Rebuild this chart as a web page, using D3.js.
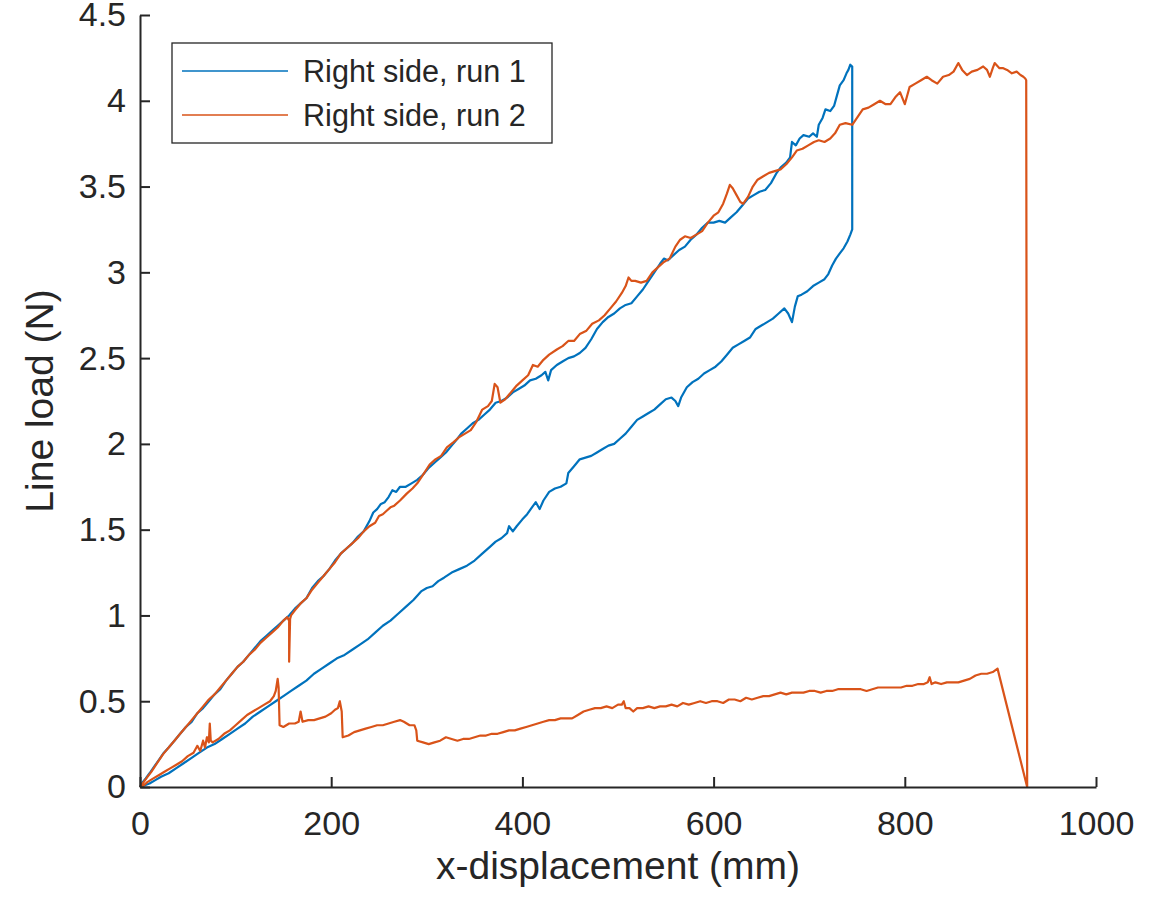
<!DOCTYPE html>
<html>
<head>
<meta charset="utf-8">
<script src="https://cdn.jsdelivr.net/npm/d3@7"></script>
<style>
	body { margin: 0; background: #fff; }
	text { font-family: 'Liberation Sans', Arial, sans-serif; fill: #262626; }
</style>
</head>
<body>
<div class="canvas"></div>
<script>
// data: [x-displacement (mm), line load (N)]
const run1Load = [[0,0],[3,0.03],[6,0.05],[10,0.08],[15,0.12],[20,0.16],[25,0.2],[30,0.23],[36,0.27],[42,0.31],[48,0.35],[54,0.38],[60,0.43],[66,0.46],[72,0.5],[78,0.54],[84,0.57],[90,0.62],[96,0.66],[102,0.7],[108,0.73],[114,0.77],[120,0.81],[126,0.85],[132,0.88],[138,0.91],[144,0.94],[150,0.97],[156,1.0],[162,1.04],[168,1.07],[174,1.1],[180,1.16],[186,1.2],[192,1.23],[198,1.27],[204,1.32],[210,1.36],[216,1.39],[222,1.42],[228,1.46],[234,1.49],[240,1.55],[244,1.6],[248,1.62],[252,1.65],[256,1.66],[260,1.69],[264,1.73],[268,1.72],[272,1.75],[278,1.75],[284,1.77],[290,1.79],[296,1.82],[302,1.86],[308,1.89],[314,1.92],[320,1.95],[326,1.99],[332,2.03],[336,2.06],[342,2.09],[348,2.12],[354,2.14],[360,2.17],[366,2.2],[372,2.24],[378,2.25],[384,2.27],[390,2.3],[396,2.32],[402,2.34],[408,2.37],[414,2.38],[420,2.4],[424,2.42],[427,2.37],[430,2.43],[436,2.46],[442,2.48],[448,2.5],[454,2.51],[460,2.53],[466,2.56],[472,2.61],[478,2.67],[484,2.71],[490,2.74],[496,2.76],[502,2.79],[508,2.81],[514,2.82],[520,2.86],[526,2.9],[532,2.95],[538,3.0],[544,3.05],[548,3.08],[552,3.07],[558,3.1],[564,3.13],[570,3.15],[576,3.19],[582,3.22],[588,3.26],[594,3.29],[600,3.29],[606,3.3],[612,3.29],[618,3.32],[624,3.35],[630,3.39],[636,3.43],[642,3.45],[648,3.47],[654,3.48],[660,3.52],[666,3.58],[670,3.61],[676,3.64],[680,3.67],[682,3.76],[686,3.74],[690,3.78],[694,3.8],[700,3.79],[704,3.81],[708,3.79],[710,3.86],[714,3.9],[717,3.95],[722,3.94],[726,3.97],[729,4.03],[732,4.09],[736,4.12],[739,4.16],[741,4.18],[743,4.21],[745,4.2]];

const run1Unload = [[0,0],[5,0.01],[10,0.02],[16,0.04],[22,0.06],[30,0.08],[38,0.11],[46,0.14],[54,0.17],[62,0.2],[70,0.23],[78,0.25],[86,0.28],[94,0.31],[102,0.34],[110,0.37],[118,0.41],[126,0.44],[134,0.47],[142,0.5],[150,0.53],[158,0.56],[166,0.59],[174,0.62],[182,0.66],[190,0.69],[198,0.72],[206,0.75],[214,0.77],[222,0.8],[230,0.83],[238,0.86],[246,0.9],[254,0.94],[262,0.97],[270,1.01],[278,1.05],[286,1.09],[294,1.14],[300,1.16],[306,1.17],[312,1.2],[318,1.22],[326,1.25],[334,1.27],[342,1.29],[350,1.32],[358,1.36],[366,1.4],[372,1.43],[378,1.45],[384,1.48],[386,1.52],[390,1.49],[394,1.52],[400,1.56],[405,1.59],[410,1.63],[414,1.66],[418,1.62],[422,1.67],[428,1.72],[434,1.74],[440,1.75],[446,1.77],[448,1.83],[454,1.87],[460,1.91],[466,1.92],[472,1.93],[478,1.95],[484,1.97],[490,1.99],[496,2.0],[502,2.03],[508,2.06],[514,2.1],[520,2.14],[526,2.16],[532,2.18],[538,2.2],[544,2.23],[550,2.26],[556,2.27],[560,2.25],[563,2.22],[566,2.27],[572,2.33],[578,2.36],[584,2.38],[590,2.41],[596,2.43],[602,2.45],[608,2.48],[614,2.52],[620,2.56],[626,2.58],[632,2.6],[638,2.62],[644,2.67],[650,2.69],[656,2.71],[662,2.73],[668,2.76],[674,2.79],[678,2.76],[682,2.71],[685,2.8],[688,2.86],[692,2.87],[698,2.89],[704,2.92],[710,2.94],[716,2.96],[720,2.99],[724,3.04],[728,3.08],[732,3.11],[736,3.14],[740,3.18],[743,3.22],[745,3.25]];

const run2Load = [[0,0],[4,0.03],[8,0.06],[12,0.09],[18,0.14],[24,0.19],[30,0.23],[36,0.27],[42,0.31],[48,0.35],[54,0.39],[60,0.43],[66,0.47],[72,0.51],[78,0.54],[84,0.58],[90,0.62],[96,0.66],[102,0.7],[108,0.73],[114,0.77],[120,0.8],[126,0.84],[132,0.87],[138,0.9],[144,0.93],[150,0.97],[154,0.99],[156,0.97],[156,0.73],[157,0.98],[158,1.0],[162,1.03],[168,1.07],[174,1.1],[180,1.15],[186,1.19],[192,1.23],[198,1.27],[204,1.31],[210,1.36],[216,1.39],[222,1.42],[228,1.45],[234,1.49],[240,1.52],[246,1.54],[250,1.58],[254,1.59],[258,1.61],[262,1.63],[266,1.64],[272,1.67],[279,1.71],[285,1.74],[290,1.77],[296,1.82],[303,1.88],[309,1.91],[315,1.93],[321,1.98],[328,2.01],[334,2.04],[340,2.06],[346,2.08],[352,2.13],[358,2.2],[364,2.22],[368,2.25],[371,2.35],[374,2.33],[377,2.24],[382,2.26],[388,2.3],[394,2.34],[400,2.37],[406,2.4],[411,2.46],[416,2.45],[422,2.49],[428,2.52],[436,2.55],[442,2.57],[448,2.6],[454,2.6],[460,2.64],[467,2.66],[473,2.7],[480,2.72],[486,2.75],[492,2.79],[498,2.83],[504,2.88],[508,2.92],[511,2.97],[514,2.95],[518,2.95],[524,2.94],[530,2.95],[536,3.0],[542,3.03],[548,3.06],[554,3.08],[560,3.15],[565,3.19],[570,3.21],[576,3.2],[582,3.22],[588,3.24],[594,3.29],[600,3.33],[605,3.35],[610,3.4],[614,3.46],[617,3.51],[620,3.49],[624,3.45],[628,3.41],[631,3.4],[636,3.44],[641,3.5],[646,3.54],[652,3.56],[658,3.58],[664,3.59],[670,3.6],[676,3.63],[682,3.67],[687,3.71],[693,3.72],[699,3.74],[705,3.76],[710,3.77],[716,3.76],[722,3.78],[727,3.81],[732,3.86],[738,3.87],[745,3.86],[750,3.9],[756,3.95],[762,3.96],[768,3.98],[774,4.0],[780,3.98],[785,3.98],[790,4.02],[795,4.05],[800,3.98],[805,4.08],[811,4.1],[817,4.12],[823,4.14],[828,4.12],[834,4.1],[840,4.14],[846,4.15],[851,4.17],[856,4.22],[860,4.18],[865,4.15],[870,4.17],[876,4.18],[882,4.2],[886,4.18],[889,4.14],[892,4.19],[894,4.22],[899,4.19],[903,4.19],[907,4.18],[912,4.16],[917,4.17],[921,4.15],[924,4.14],[926,4.13],[927,4.12],[928,0]];

const run2Unload = [[0,0],[4,0.01],[8,0.03],[14,0.05],[20,0.07],[26,0.09],[32,0.11],[38,0.13],[44,0.15],[50,0.18],[56,0.2],[60,0.24],[63,0.21],[66,0.27],[68,0.23],[70,0.29],[72,0.26],[73,0.37],[74,0.27],[76,0.26],[82,0.28],[88,0.31],[94,0.33],[100,0.36],[106,0.39],[112,0.42],[118,0.44],[124,0.46],[130,0.48],[136,0.5],[140,0.53],[142,0.56],[144,0.63],[145,0.58],[146,0.36],[150,0.35],[156,0.37],[162,0.37],[166,0.38],[168,0.44],[170,0.38],[176,0.39],[182,0.39],[188,0.4],[194,0.41],[200,0.43],[204,0.45],[207,0.46],[209,0.5],[211,0.44],[212,0.29],[218,0.3],[224,0.32],[230,0.33],[236,0.34],[242,0.35],[248,0.36],[254,0.36],[260,0.37],[266,0.38],[272,0.39],[276,0.38],[282,0.36],[287,0.36],[289,0.33],[290,0.27],[296,0.26],[302,0.25],[308,0.26],[314,0.27],[320,0.29],[326,0.28],[332,0.27],[338,0.28],[344,0.28],[350,0.29],[356,0.3],[362,0.3],[368,0.31],[374,0.31],[380,0.32],[386,0.33],[392,0.33],[398,0.34],[404,0.35],[410,0.36],[416,0.37],[422,0.38],[428,0.39],[434,0.39],[440,0.4],[446,0.4],[452,0.4],[458,0.42],[464,0.44],[470,0.45],[476,0.46],[482,0.46],[488,0.47],[494,0.46],[500,0.48],[504,0.48],[506,0.5],[508,0.46],[512,0.46],[516,0.44],[520,0.46],[526,0.46],[532,0.47],[538,0.46],[544,0.47],[550,0.47],[556,0.48],[562,0.47],[568,0.49],[574,0.48],[580,0.49],[586,0.5],[592,0.49],[598,0.5],[604,0.5],[610,0.49],[616,0.51],[622,0.51],[628,0.5],[634,0.52],[640,0.51],[646,0.52],[652,0.53],[658,0.53],[664,0.54],[670,0.55],[676,0.54],[682,0.55],[688,0.55],[694,0.55],[700,0.56],[706,0.56],[712,0.55],[718,0.56],[724,0.56],[730,0.57],[736,0.57],[742,0.57],[748,0.57],[754,0.57],[760,0.56],[766,0.57],[772,0.58],[778,0.58],[784,0.58],[790,0.58],[796,0.58],[802,0.59],[808,0.59],[814,0.6],[820,0.6],[824,0.61],[826,0.64],[828,0.6],[832,0.61],[838,0.6],[844,0.61],[850,0.61],[856,0.61],[862,0.62],[868,0.63],[874,0.65],[880,0.66],[886,0.66],[892,0.67],[897,0.69]];

const xTicks = [0, 200, 400, 600, 800, 1000];
const yTicks = [0, 0.5, 1, 1.5, 2, 2.5, 3, 3.5, 4, 4.5];
const seriesNames = ['Right side, run 1', 'Right side, run 2'];
const seriesColors = ['#0072BD', '#D95319'];

// each run: loading branch, then the unloading branch walked back to zero
const runs = [
	run1Load.concat(run1Unload.slice().reverse()),
	run2Load.concat(run2Unload.slice().reverse())
];

const svg = d3.select('.canvas')
	.append('svg')
	.attr('width', 1166)
	.attr('height', 899);

const margin = {top: 15, right: 70, bottom: 112, left: 140};
const graphWidth = 1166 - margin.left - margin.right;
const graphHeight = 899 - margin.top - margin.bottom;

const graph = svg.append('g')
	.attr('transform', `translate(${margin.left},${margin.top})`);

const x = d3.scaleLinear().domain([0, 1000]).range([0, graphWidth]);
const y = d3.scaleLinear().domain([0, 4.5]).range([graphHeight, 0]);

// lines
const line = d3.line()
	.x(d => x(d[0]))
	.y(d => y(d[1]));

graph.selectAll('path.run')
	.data(runs)
	.enter()
	.append('path')
	.attr('class', 'run')
	.attr('d', line)
	.attr('fill', 'none')
	.attr('stroke', (d, i) => seriesColors[i])
	.attr('stroke-width', 2.2)
	.attr('stroke-linejoin', 'round');

// axes, ticks inside like matlab
const xAxis = d3.axisBottom(x)
	.tickValues(xTicks)
	.tickFormat(d => String(d))
	.tickSizeInner(-10)
	.tickSizeOuter(0)
	.tickPadding(24);
const yAxis = d3.axisLeft(y)
	.tickValues(yTicks)
	.tickFormat(d => String(d))
	.tickSizeInner(-10)
	.tickSizeOuter(0)
	.tickPadding(24);

const xAxisGroup = graph.append('g')
	.attr('transform', `translate(0,${graphHeight})`)
	.call(xAxis);
const yAxisGroup = graph.append('g')
	.call(yAxis);

[xAxisGroup, yAxisGroup].forEach(g => {
	g.select('.domain').attr('stroke', '#262626').attr('stroke-width', 2);
	g.selectAll('.tick line').attr('stroke', '#262626').attr('stroke-width', 2);
	g.selectAll('.tick text')
		.attr('fill', '#262626')
		.style('font-size', '34px')
		.style('font-family', "'Liberation Sans', Arial, sans-serif");
});
xAxisGroup.selectAll('.tick text').attr('dy', '0.71em');
yAxisGroup.selectAll('.tick text').attr('x', -14);

// axis labels
svg.append('text')
	.attr('x', margin.left + graphWidth / 2)
	.attr('y', 879)
	.attr('text-anchor', 'middle')
	.style('font-size', '39px')
	.text('x-displacement (mm)');

svg.append('text')
	.attr('transform', `translate(53,${margin.top + graphHeight / 2}) rotate(-90)`)
	.attr('text-anchor', 'middle')
	.style('font-size', '39px')
	.text('Line load (N)');

// legend
const legend = svg.append('g').attr('transform', 'translate(172,43)');
legend.append('rect')
	.attr('width', 380)
	.attr('height', 100)
	.attr('fill', '#fff')
	.attr('stroke', '#262626')
	.attr('stroke-width', 1.3);

const items = legend.selectAll('g.item')
	.data(seriesNames)
	.enter()
	.append('g')
	.attr('class', 'item')
	.attr('transform', (d, i) => `translate(0,${28 + i * 44})`);
items.append('line')
	.attr('x1', 10).attr('x2', 116)
	.attr('stroke', (d, i) => seriesColors[i])
	.attr('stroke-width', 1.7);
items.append('text')
	.attr('x', 131)
	.attr('dy', '0.35em')
	.style('font-size', '30.6px')
	.text(d => d);
</script>
</body>
</html>
